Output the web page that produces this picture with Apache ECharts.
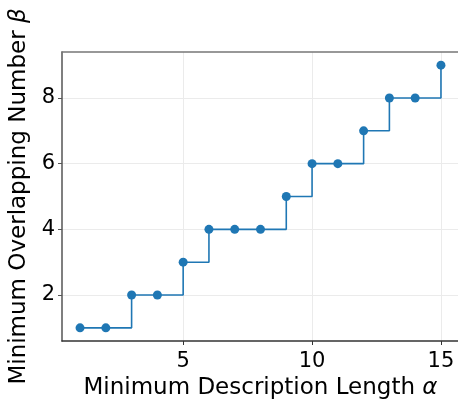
<!DOCTYPE html>
<html>
<head>
<meta charset="utf-8">
<script src="https://cdn.jsdelivr.net/npm/echarts@6/dist/echarts.min.js"></script>
<style>
  html, body { margin: 0; padding: 0; background: #fff; overflow: hidden; }
  #wrap { width: 458px; height: 399px; overflow: hidden; }
  #chart { width: 480px; height: 399px; }
</style>
</head>
<body>
<div id="wrap"><div id="chart"></div></div>
<script>
// description length alpha -> overlapping number beta
const alphaValues = [1, 2, 3, 4, 5, 6, 7, 8, 9, 10, 11, 12, 13, 14, 15]
const betaValues = [1, 1, 2, 2, 3, 4, 4, 4, 5, 6, 6, 7, 8, 8, 9]
const xTicks = [5, 10, 15]
const yTicks = [2, 4, 6, 8]

const font = 'DejaVu Sans'
const blue = '#1f77b4'
const gridColor = '#ebebeb'

const chart = echarts.init(document.getElementById('chart'))

const gridLines = [
  ...xTicks.map((v) => ({ xAxis: v })),
  ...yTicks.map((v) => ({ yAxis: v }))
]

const titleStyle = {
  fontFamily: font,
  fontSize: 23,
  color: '#000',
  rich: { g: { fontFamily: font, fontSize: 23, fontStyle: 'italic', color: '#000' } }
}
const labelStyle = { fontFamily: font, fontSize: 21, color: '#000' }

const option = {
  animation: false,
  grid: {
    left: 62,
    top: 52,
    width: 397,
    height: 289,
    outerBoundsMode: 'none',
    containLabel: false
  },
  xAxis: [
    {
      type: 'value',
      min: 0.3,
      max: 15.7,
      name: 'Minimum Description Length {g|α}',
      nameLocation: 'middle',
      nameGap: 36,
      nameTextStyle: titleStyle,
      axisLine: { show: true, lineStyle: { color: '#333', width: 1.5 } },
      axisTick: { show: true, customValues: xTicks, length: 4, lineStyle: { color: '#333' } },
      axisLabel: { customValues: xTicks, margin: 10, ...labelStyle },
      splitLine: { show: false }
    },
    {
      // top spine only
      type: 'value',
      position: 'top',
      min: 0.3,
      max: 15.7,
      axisLine: { show: true, lineStyle: { color: '#777', width: 1.5 } },
      axisTick: { show: false },
      axisLabel: { show: false },
      splitLine: { show: false }
    }
  ],
  yAxis: {
    type: 'value',
    min: 0.6,
    max: 9.4,
    name: 'Minimum Overlapping Number {g|β}',
    nameLocation: 'middle',
    nameGap: 25,
    nameTextStyle: titleStyle,
    axisLine: { show: true, lineStyle: { color: '#555', width: 1.5 } },
    axisTick: { show: true, customValues: yTicks, length: 4, lineStyle: { color: '#555' } },
    axisLabel: { customValues: yTicks, margin: 7, ...labelStyle },
    splitLine: { show: false }
  },
  series: [
    {
      // background grid lines
      type: 'line',
      data: [],
      z: 1,
      silent: true,
      markLine: {
        z: 0,
        silent: true,
        symbol: 'none',
        label: { show: false },
        lineStyle: { color: gridColor, type: 'solid', width: 1 },
        data: gridLines
      }
    },
    {
      type: 'line',
      z: 3,
      step: 'end',
      data: alphaValues.map((a, i) => [a, betaValues[i]]),
      symbol: 'circle',
      symbolSize: 9,
      itemStyle: { color: blue },
      lineStyle: { color: blue, width: 1.6 }
    }
  ]
}

chart.setOption(option)
</script>
</body>
</html>
